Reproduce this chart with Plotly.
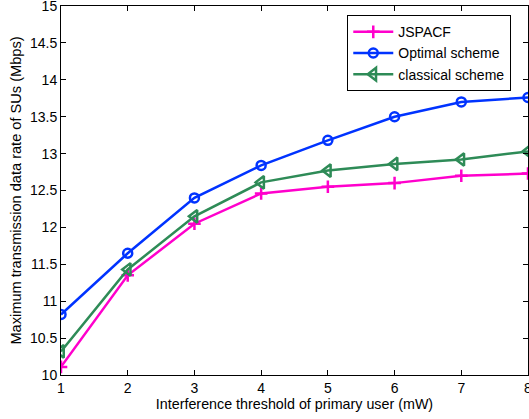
import plotly.graph_objects as go

x_vals = [1, 2, 3, 4, 5, 6, 7, 8]
jspacf = [10.11, 11.35, 12.05, 12.46, 12.55, 12.60, 12.70, 12.73]
optimal = [10.82, 11.65, 12.40, 12.84, 13.18, 13.50, 13.70, 13.76]
classical = [10.32, 11.43, 12.15, 12.61, 12.77, 12.86, 12.92, 13.03]
x_ticks = [1, 2, 3, 4, 5, 6, 7, 8]
y_ticks = [10, 10.5, 11, 11.5, 12, 12.5, 13, 13.5, 14, 14.5, 15]

font = "Liberation Sans, Arial, sans-serif"

fig = go.Figure()
fig.add_trace(go.Scatter(x=x_vals, y=jspacf, name="JSPACF", mode="lines+markers",
                         line=dict(color="#FF00CC", width=2.5),
                         marker=dict(symbol="cross-thin", size=9,
                                     line=dict(color="#FF00CC", width=2.5))))
fig.add_trace(go.Scatter(x=x_vals, y=optimal, name="Optimal scheme", mode="lines+markers",
                         line=dict(color="#0033FF", width=2.5),
                         marker=dict(symbol="circle-open", size=9,
                                     line=dict(color="#0033FF", width=2.5))))
fig.add_trace(go.Scatter(x=x_vals, y=classical, name="classical scheme", mode="lines+markers",
                         line=dict(color="#2E8B57", width=2.5),
                         marker=dict(symbol="triangle-left-open", size=11,
                                     line=dict(color="#2E8B57", width=2.5))))

axis_common = dict(showline=True, linecolor="black", linewidth=1, mirror="ticks",
                   ticks="inside", ticklen=5, tickcolor="black", showgrid=False,
                   zeroline=False, ticklabeloverflow="allow",
                   tickfont=dict(family=font, size=14, color="black"))

fig.update_layout(
    width=529, height=419,
    margin=dict(l=61, r=1, t=6, b=44, autoexpand=False),
    paper_bgcolor="white", plot_bgcolor="white",
    font=dict(family=font, color="black"),
    xaxis=dict(range=[1, 8], tickvals=x_ticks, automargin=False,
               title=dict(text="Interference threshold of primary user (mW)",
                          font=dict(family=font, size=14.3), standoff=3),
               **axis_common),
    yaxis=dict(range=[10, 15], tickvals=y_ticks, automargin=False,
               title=dict(text="Maximum transmission data rate of SUs (Mbps)",
                          font=dict(family=font, size=14.6), standoff=4),
               **axis_common),
    legend=dict(x=0.613, y=0.975, xanchor="left", yanchor="top",
                bordercolor="black", borderwidth=1, bgcolor="white",
                font=dict(family=font, size=14), tracegroupgap=0,
                itemwidth=40),
    showlegend=True,
)

fig.write_html("out.html")
